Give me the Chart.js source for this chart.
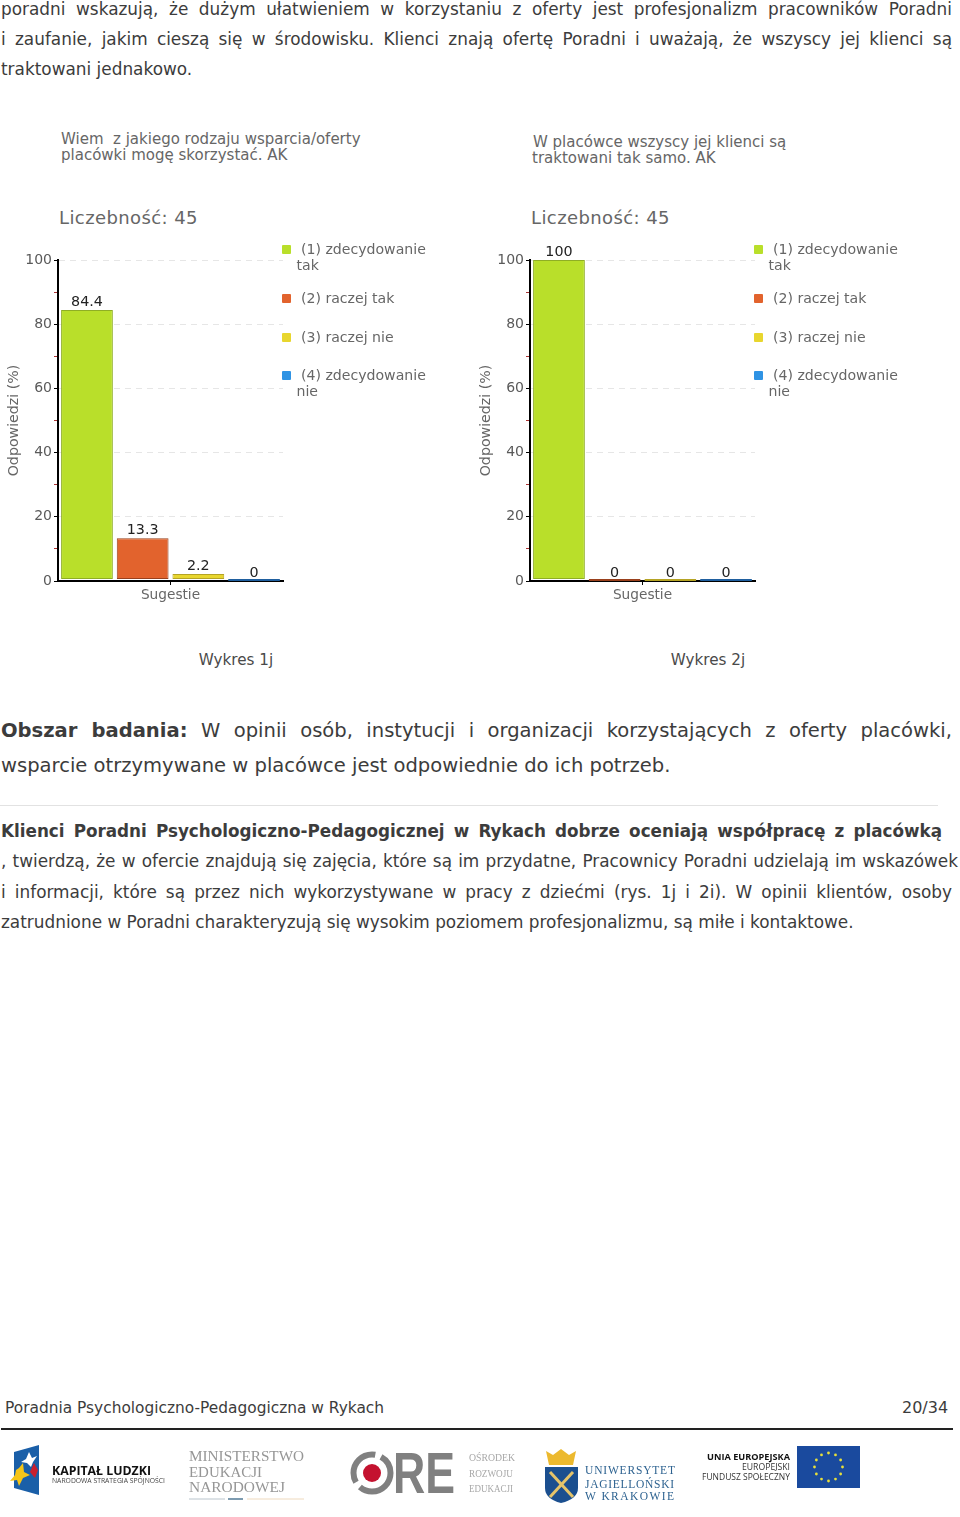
<!DOCTYPE html>
<html lang="pl">
<head>
<meta charset="utf-8">
<title>Wykresy 1j i 2j</title>
<script src="https://cdn.jsdelivr.net/npm/chart.js@4/dist/chart.umd.min.js"></script>
<style>
html, body { margin: 0; padding: 0; background: #fff; }
body { position: relative; width: 960px; height: 1517px; overflow: hidden; font-family: "DejaVu Sans", sans-serif; color: #3c3c3c; }
.line { position: absolute; left: 1px; width: 951px; font-size: 16.9px; line-height: 20px; white-space: nowrap; }
.just { white-space: normal; text-align: justify; text-align-last: justify; }
.big { font-size: 19.56px; line-height: 24px; }
.strong { font-weight: bold; font-size: 16.8px; }
.abs { position: absolute; white-space: nowrap; }
.ctitle { font-size: 15px; line-height: 16px; color: #666; }
.count { font-size: 18px; color: #666; letter-spacing: .4px; }
.caption { font-size: 15.2px; color: #4a4a4a; width: 200px; text-align: center; }
.leg { font-size: 14.1px; line-height: 16px; color: #666; }
.mark { position: absolute; width: 9px; height: 9px; border-radius: 1px; }
canvas { position: absolute; }
#logos { position: absolute; left: 0; top: 0; }
</style>
</head>
<body>

<div class="line just" style="top:-1px">poradni wskazują, że dużym ułatwieniem w korzystaniu z oferty jest profesjonalizm pracowników Poradni</div>
<div class="line just" style="top:29px">i zaufanie, jakim cieszą się w środowisku. Klienci znają ofertę Poradni i uważają, że wszyscy jej klienci są</div>
<div class="line" style="top:59px">traktowani jednakowo.</div>

<div class="abs ctitle" style="left:61px;top:131px">Wiem&nbsp; z jakiego rodzaju wsparcia/oferty<br>placówki mogę skorzystać. AK</div>
<div class="abs ctitle" style="left:533px;top:134px">W placówce wszyscy jej klienci są<br><span style="margin-left:-1px">traktowani tak samo. AK</span></div>
<div class="abs count" style="left:59px;top:207px">Liczebność: 45</div>
<div class="abs count" style="left:531px;top:207px">Liczebność: 45</div>

<canvas id="wykres1" width="284" height="375" style="left:0;top:235px"></canvas>
<canvas id="wykres2" width="284" height="375" style="left:472px;top:235px"></canvas>
<div id="legends"></div>

<div class="abs caption" style="left:136px;top:651px">Wykres 1j</div>
<div class="abs caption" style="left:608px;top:651px">Wykres 2j</div>

<div class="line big just" style="top:719px"><b>Obszar badania:</b> W opinii osób, instytucji i organizacji korzystających z oferty placówki,</div>
<div class="line big" style="top:754px">wsparcie otrzymywane w placówce jest odpowiednie do ich potrzeb.</div>
<div class="abs" style="left:0;top:805px;width:938px;height:1px;background:#e2e2e2"></div>

<div class="line just strong" style="top:821px;width:941px">Klienci Poradni Psychologiczno-Pedagogicznej w Rykach dobrze oceniają współpracę z placówką</div>
<div class="line just" style="top:851px;width:957px">, twierdzą, że w ofercie znajdują się zajęcia, które są im przydatne, Pracownicy Poradni udzielają im wskazówek</div>
<div class="line just" style="top:882px">i informacji, które są przez nich wykorzystywane w pracy z dziećmi (rys. 1j i 2i). W opinii klientów, osoby</div>
<div class="line" style="top:912px">zatrudnione w Poradni charakteryzują się wysokim poziomem profesjonalizmu, są miłe i kontaktowe.</div>

<div class="abs" style="left:5px;top:1398px;font-size:15.4px;line-height:20px">Poradnia Psychologiczno-Pedagogiczna w Rykach</div>
<div class="abs" style="left:902px;top:1398px;font-size:16px;line-height:20px">20/34</div>
<div class="abs" style="left:1px;top:1428px;width:952px;height:2px;background:#222"></div>

<svg id="logos" width="960" height="1517" xmlns="http://www.w3.org/2000/svg">
  <polygon points="14,1452 39,1445 39,1495 14,1488" fill="#1a5fa8"/>
  <polygon points="29,1452 32,1458 37,1456 33,1462 31,1467 27,1463 21,1462 26,1459" fill="#fff"/>
  <polygon points="16,1470 19,1468 23,1463 24,1472 30,1475 23,1478 19,1486 17,1480 10,1481 15,1475" fill="#f5c518"/>
  <polygon points="34,1463 38,1470 35,1478 30,1472" fill="#c8202f"/>
  <text x="52" y="1475" font-family="Open Sans" font-weight="bold" font-size="12.6" fill="#111" textLength="99" lengthAdjust="spacingAndGlyphs">KAPITAŁ LUDZKI</text>
  <text x="52" y="1483" font-family="Open Sans" font-size="6.9" fill="#444" textLength="113" lengthAdjust="spacingAndGlyphs">NARODOWA STRATEGIA SPÓJNOŚCI</text>

  <g font-family="Liberation Serif" font-size="15" fill="#969696">
    <text x="189" y="1461" textLength="115" lengthAdjust="spacingAndGlyphs">MINISTERSTWO</text>
    <text x="189" y="1477" textLength="73" lengthAdjust="spacingAndGlyphs">EDUKACJI</text>
    <text x="189" y="1492" textLength="96" lengthAdjust="spacingAndGlyphs">NARODOWEJ</text>
  </g>
  <line x1="189" y1="1499" x2="225" y2="1499" stroke="#b9c4cc"/>
  <line x1="228" y1="1499" x2="243" y2="1499" stroke="#7d9bb0" stroke-width="2"/>
  <line x1="247" y1="1499" x2="304" y2="1499" stroke="#eed9bd"/>

  <circle cx="372" cy="1473" r="18.5" fill="none" stroke="#808080" stroke-width="6" stroke-dasharray="42 6"/>
  <circle cx="372" cy="1473" r="9" fill="#c4122f"/>
  <text x="393" y="1493" font-family="Liberation Sans" font-weight="bold" font-size="57" fill="#808080" textLength="62" lengthAdjust="spacingAndGlyphs">RE</text>
  <g font-family="Liberation Serif" font-size="11" fill="#a8a8a8">
    <text x="469" y="1461" textLength="46" lengthAdjust="spacingAndGlyphs">OŚRODEK</text>
    <text x="469" y="1477" textLength="44" lengthAdjust="spacingAndGlyphs">ROZWOJU</text>
    <text x="469" y="1492" textLength="44" lengthAdjust="spacingAndGlyphs">EDUKACJI</text>
  </g>

  <polygon points="546,1451 553,1455 561,1449 569,1455 576,1451 573,1465 549,1465" fill="#ecb92e"/>
  <path d="M545,1467 H578 V1488 Q578,1499 561,1503 Q545,1499 545,1488 Z" fill="#1b4f8f"/>
  <line x1="550" y1="1472" x2="573" y2="1497" stroke="#e5c46a" stroke-width="3"/>
  <line x1="573" y1="1472" x2="550" y2="1497" stroke="#e5c46a" stroke-width="3"/>
  <g font-family="Liberation Serif" font-size="11.5" fill="#2d6290">
    <text x="585" y="1474" textLength="90">UNIWERSYTET</text>
    <text x="585" y="1488" textLength="89">JAGIELLOŃSKI</text>
    <text x="585" y="1500" textLength="89">W KRAKOWIE</text>
  </g>

  <g font-family="Open Sans" font-size="9.6" fill="#333">
    <text x="707" y="1460" font-weight="bold" fill="#111" textLength="83" lengthAdjust="spacingAndGlyphs">UNIA EUROPEJSKA</text>
    <text x="742" y="1470" textLength="48" lengthAdjust="spacingAndGlyphs">EUROPEJSKI</text>
    <text x="702" y="1480" textLength="88" lengthAdjust="spacingAndGlyphs">FUNDUSZ SPOŁECZNY</text>
  </g>
  <rect x="797" y="1446" width="63" height="42" fill="#1a4a9e"/>
  <g id="euStars" fill="#e8e03a"></g>
</svg>

<script>
/* ===== Data ===== */

var categories = ['Sugestie'];
var seriesNames = ['(1) zdecydowanie tak', '(2) raczej tak', '(3) raczej nie', '(4) zdecydowanie nie'];
var values1j = [84.4, 13.3, 2.2, 0];
var values2j = [100, 0, 0, 0];
var fillColors = ['#b9df2a', '#e2632d', '#e8d62e', '#2f93e4'];
var edgeColors = ['#8fae24', '#99401c', '#b5a324', '#1f5f9f'];
var legendLines = [
    ['(1) zdecydowanie', 'tak'],
    ['(2) raczej tak'],
    ['(3) raczej nie'],
    ['(4) zdecydowanie', 'nie'],
];
var yAxisTitle = 'Odpowiedzi (%)';


/* ===== Chart Configuration ===== */

var tickFont = { family: 'DejaVu Sans', size: 14 };
var titleFont = { family: 'DejaVu Sans', size: 14.2 };

// Value labels over the bars, the library has no built-in for this
var valueLabels = {
    id: 'valueLabels',
    afterDatasetsDraw: function(chart) {
        var ctx = chart.ctx;
        ctx.save();
        ctx.font = '14.3px "DejaVu Sans"';
        ctx.fillStyle = '#222';
        ctx.textAlign = 'center';
        chart.data.datasets.forEach(function(ds, i) {
            var bar = chart.getDatasetMeta(i).data[0];
            ctx.fillText(String(ds.data[0]), bar.x, bar.y - 4);
        });
        ctx.restore();
    },
};

function renderChart(canvasId, values) {
    var datasets = seriesNames.map(function(name, i) {
        return {
            label: name,
            data: [values[i]],
            base: 0.6,
            backgroundColor: fillColors[i],
            borderColor: edgeColors[i],
            borderWidth: 1,
            borderSkipped: false,
            categoryPercentage: 0.99,
            barPercentage: 0.93,
        };
    });

    new Chart(document.getElementById(canvasId), {
        type: 'bar',
        data: { labels: categories, datasets: datasets },
        plugins: [valueLabels],
        options: {
            responsive: false,
            animation: false,
            layout: { padding: { top: 25, right: 1 } },
            plugins: { legend: { display: false }, tooltip: { enabled: false } },
            scales: {
                x: {
                    afterFit: function(scale) { scale.height = 29; },
                    border: { color: '#000', width: 2 },
                    grid: {
                        offset: false,
                        drawOnChartArea: false,
                        tickColor: '#000',
                        tickLength: 4,
                    },
                    ticks: { display: false },
                    title: {
                        display: true,
                        text: categories[0],
                        color: '#666',
                        font: { family: 'DejaVu Sans', size: 13.7 },
                        padding: { top: 0, bottom: 6 },
                    },
                },
                y: {
                    min: 0,
                    max: 100,
                    afterFit: function(scale) { scale.width = 58; },
                    border: { color: '#000', width: 2, dash: [6, 5] },
                    grid: {
                        color: function(c) {
                            return c.tick.value > 0 && c.tick.value % 20 === 0 ? '#e6e6e6' : 'rgba(0,0,0,0)';
                        },
                        tickColor: function(c) {
                            return c.tick.value % 20 === 0 ? '#000' : '#a33';
                        },
                        tickBorderDash: [],
                        tickLength: 4,
                    },
                    ticks: {
                        stepSize: 10,
                        padding: 2,
                        color: '#5a5a5a',
                        font: tickFont,
                        autoSkip: false,
                        callback: function(v) { return v % 20 === 0 ? v : ''; },
                    },
                    title: {
                        display: true,
                        text: yAxisTitle,
                        color: '#666',
                        font: titleFont,
                        padding: { top: 6, bottom: 0 },
                    },
                },
            },
        },
    });
}


/* ===== Legends ===== */

function renderLegend(dx) {
    var host = document.getElementById('legends');
    var tops = [241, 290, 329, 367];
    legendLines.forEach(function(lines, i) {
        var mark = document.createElement('div');
        mark.className = 'mark';
        mark.style.left = (282 + dx) + 'px';
        mark.style.top = (tops[i] + 4) + 'px';
        mark.style.background = fillColors[i];
        host.appendChild(mark);

        lines.forEach(function(text, n) {
            var el = document.createElement('div');
            el.className = 'abs leg';
            el.style.left = ((n === 0 ? 301 : 296.5) + dx) + 'px';
            el.style.top = (tops[i] + n * 16) + 'px';
            el.textContent = text;
            host.appendChild(el);
        });
    });
}

// EU flag stars on a ring
function renderStars() {
    var g = document.getElementById('euStars');
    for (var i = 0; i < 12; i++) {
        var a = i * Math.PI / 6;
        var c = document.createElementNS('http://www.w3.org/2000/svg', 'circle');
        c.setAttribute('cx', 828.5 + 14 * Math.cos(a));
        c.setAttribute('cy', 1467 + 14 * Math.sin(a));
        c.setAttribute('r', 1.4);
        g.appendChild(c);
    }
}

renderChart('wykres1', values1j);
renderChart('wykres2', values2j);
renderLegend(0);
renderLegend(472);
renderStars();
</script>
</body>
</html>
